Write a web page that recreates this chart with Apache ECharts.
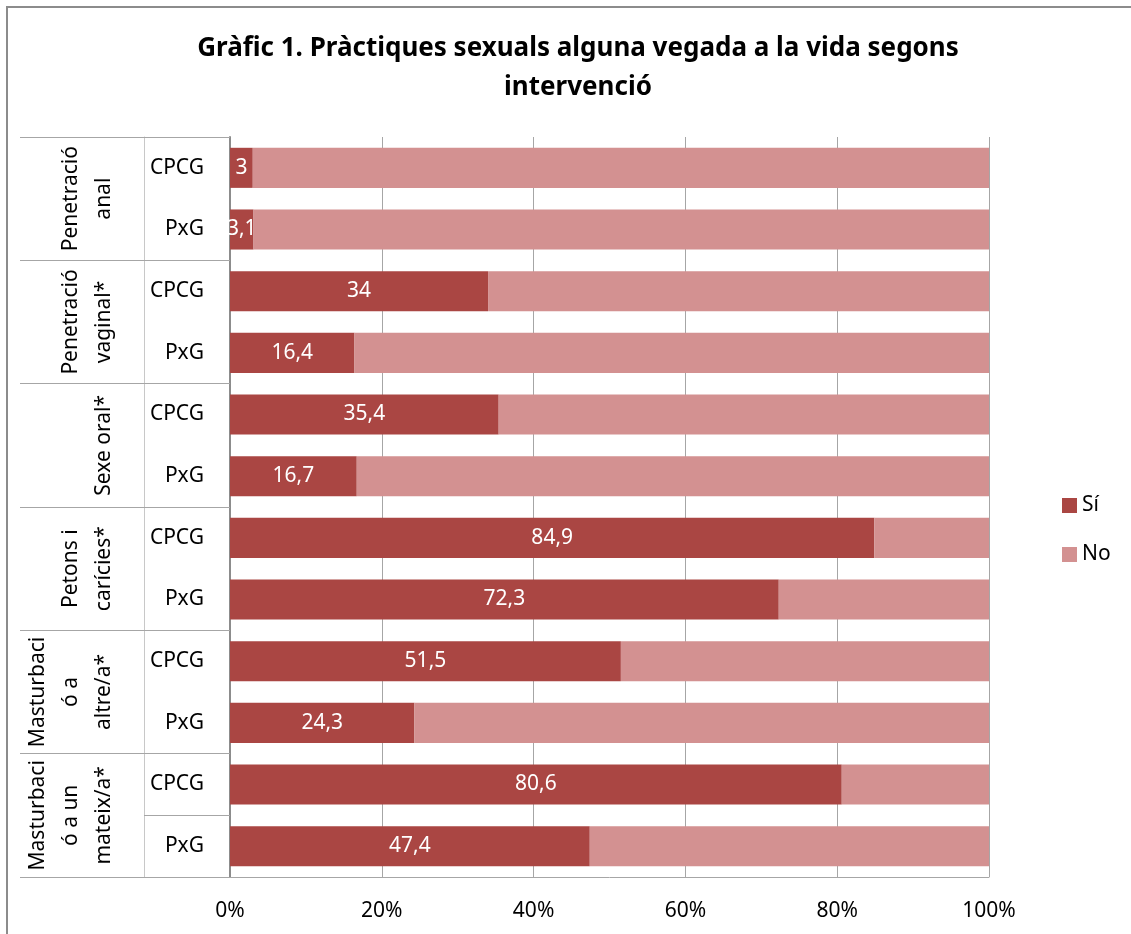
<!DOCTYPE html>
<html>
<head>
<meta charset="utf-8">
<script src="https://cdn.jsdelivr.net/npm/echarts@6/dist/echarts.min.js"></script>
<style>
  html, body { margin: 0; padding: 0; background: #fff; overflow: hidden; }
  #frame { position: absolute; left: 6px; top: 6px; width: 1200px; height: 1000px; border: 2px solid #8c8c8c; box-sizing: border-box; }
  #main { position: absolute; left: 0; top: 0; width: 1131px; height: 934px; }
</style>
</head>
<body>
<div id="frame"></div>
<div id="main"></div>
<script>
// categories (top to bottom)
var groups = ['Penetració\nanal', 'Penetració\nvaginal*', 'Sexe oral*', 'Petons i\ncarícies*', 'Masturbaci\nó a\naltre/a*', 'Masturbaci\nó a un\nmateix/a*'];
var subGroups = ['CPCG', 'PxG', 'CPCG', 'PxG', 'CPCG', 'PxG', 'CPCG', 'PxG', 'CPCG', 'PxG', 'CPCG', 'PxG'];
// Sí / No percentages
var siData = [3, 3.1, 34, 16.4, 35.4, 16.7, 84.9, 72.3, 51.5, 24.3, 80.6, 47.4];
var noData = [97, 96.9, 66, 83.6, 64.6, 83.3, 15.1, 27.7, 48.5, 75.7, 19.4, 52.6];
var xTicks = [0, 20, 40, 60, 80, 100];

var font = '"Noto Sans", "Open Sans", sans-serif';
var chart = echarts.init(document.getElementById('main'));

var option = {
  backgroundColor: 'transparent',
  textStyle: { fontFamily: font },
  title: {
    text: 'Gràfic 1. Pràctiques sexuals alguna vegada a la vida segons\nintervenció',
    left: 573,
    top: 24,
    textAlign: 'center',
    textStyle: { fontFamily: font, fontSize: 26, fontWeight: 'bold', color: '#000', lineHeight: 39 }
  },
  legend: {
    orient: 'vertical',
    left: 1057,
    top: 486,
    itemWidth: 15,
    itemHeight: 15,
    itemGap: 20,
    icon: 'rect',
    data: ['Sí', 'No'],
    textStyle: { fontFamily: font, fontSize: 21, color: '#000', lineHeight: 29 }
  },
  grid: { left: 230, right: 142, top: 137, bottom: 57, containLabel: false },
  xAxis: {
    type: 'value',
    min: 0,
    max: 100,
    interval: 20,
    axisLine: { show: true, lineStyle: { color: '#a6a6a6', width: 1 } },
    axisTick: { show: false },
    splitLine: { show: true, lineStyle: { color: '#a6a6a6', width: 1 } },
    axisLabel: {
      margin: 24,
      fontSize: 21,
      color: '#000',
      fontFamily: font,
      customValues: xTicks,
      formatter: function (v) { return v + '%'; }
    }
  },
  yAxis: [
    {
      type: 'category',
      inverse: true,
      data: subGroups,
      axisLine: { show: true, lineStyle: { color: '#8c8c8c', width: 2 } },
      axisTick: { show: true, interval: 1, length: 86, lineStyle: { color: '#a6a6a6' } },
      axisLabel: { interval: 0, margin: 26, fontSize: 21, color: '#000', fontFamily: font }
    },
    {
      type: 'category',
      inverse: true,
      position: 'left',
      offset: 86,
      data: groups,
      axisLine: { show: true, lineStyle: { color: '#c8c8c8', width: 1 } },
      axisTick: { show: true, length: 124, lineStyle: { color: '#a6a6a6' } },
      axisLabel: { interval: 0, rotate: 90, margin: 23, fontSize: 21, lineHeight: 33, color: '#000', fontFamily: font }
    }
  ],
  series: [
    {
      name: 'Sí',
      type: 'bar',
      stack: 'total',
      yAxisIndex: 0,
      barWidth: '65%',
      data: siData,
      itemStyle: { color: '#AA4643' },
      label: {
        show: true,
        position: 'inside',
        color: '#fff',
        fontSize: 21,
        fontFamily: font,
        formatter: function (p) { return String(p.value).replace('.', ','); }
      }
    },
    {
      name: 'No',
      type: 'bar',
      stack: 'total',
      yAxisIndex: 0,
      data: noData,
      itemStyle: { color: '#D39191' }
    }
  ]
};

chart.setOption(option);
</script>
</body>
</html>
